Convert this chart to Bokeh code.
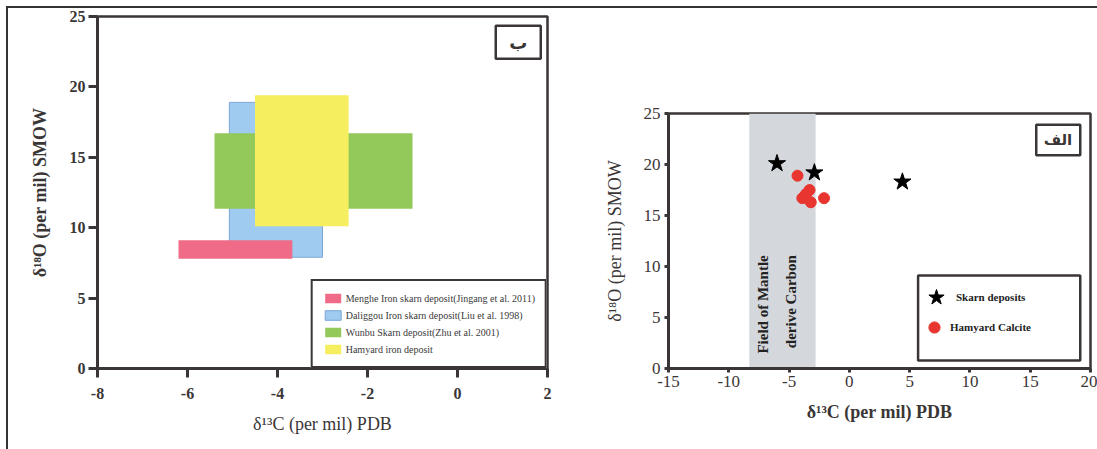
from math import pi

from bokeh.embed import file_html
from bokeh.layouts import row
from bokeh.models import (BoxAnnotation, ColumnDataSource, CustomJSTickFormatter, FixedTicker, Label,
                          Legend, LegendItem)
from bokeh.plotting import figure
from bokeh.resources import INLINE

# ---------------- panel "ب": carbonate isotope fields of skarn / iron deposits
field_names = [
    "Menghe Iron skarn deposit(Jingang et al. 2011)",
    "Daliggou Iron skarn deposit(Liu et al. 1998)",
    "Wunbu Skarn deposit(Zhu et al. 2001)",
    "Hamyard iron deposit",
]
field_c13_min = [-6.2, -5.07, -5.4, -4.5]
field_c13_max = [-3.67, -3.0, -1.0, -2.42]
field_o18_min = [7.8, 7.9, 11.35, 10.1]
field_o18_max = [9.1, 18.9, 16.7, 19.4]

# ---------------- panel "الف": measured samples
skarn_c13 = [-6.0, -2.9, 4.4]
skarn_o18 = [20.1, 19.2, 18.3]
calcite_c13 = [-4.3, -3.3, -3.6, -3.9, -3.2, -2.1]
calcite_o18 = [18.9, 17.5, 17.1, 16.7, 16.3, 16.7]
mantle_c13 = [-8.3, -2.8]

left_x_ticks = [-8, -6, -4, -2, 0, 2]
right_x_ticks = [-15, -10, -5, 0, 5, 10, 15, 20]
y_ticks = [0, 5, 10, 15, 20, 25]

INK = "#3b3636"
SERIF = "Liberation Serif"
field_colors = ["#EF6B88", "#9FCBF0", "#93C85B", "#F5EE5E"]
field_lines = [None, "#7BA7D6", None, None]

# plain hyphen for negative tick values, as printed in the figure
plain_ticks = CustomJSTickFormatter(code="return tick.toString();")


def style_axes(p, tick_size, tick_style, tick_out, xticks):
    for ax in (p.xaxis[0], p.yaxis[0]):
        ax.axis_line_color = INK
        ax.axis_line_width = 3
        ax.major_tick_line_color = INK
        ax.major_tick_line_width = 3
        ax.major_tick_out = tick_out
        ax.major_tick_in = 0
        ax.minor_tick_out = 0
        ax.minor_tick_in = 0
        ax.major_label_text_font = SERIF
        ax.major_label_text_font_size = tick_size
        ax.major_label_text_font_style = tick_style
        ax.major_label_text_color = INK
        ax.axis_label_text_font = SERIF
        ax.axis_label_text_color = INK
    p.xaxis.ticker = FixedTicker(ticks=xticks)
    p.yaxis.ticker = FixedTicker(ticks=y_ticks)
    p.xaxis.formatter = plain_ticks
    p.xgrid.visible = False
    p.ygrid.visible = False
    p.outline_line_color = INK
    p.outline_line_width = 2.5
    p.outline_line_alpha = 1


def tag_box(p, left, right, bottom, top):
    p.add_layout(BoxAnnotation(left=left, right=right, bottom=bottom, top=top,
                               fill_color="white", fill_alpha=1,
                               line_color=INK, line_alpha=1, line_width=2.5))


# ---------------- left chart
p1 = figure(width=552, height=441, x_range=(-8, 2), y_range=(0, 25),
            output_backend="svg", toolbar_location=None,
            min_border_left=89, min_border_right=13, min_border_top=8, min_border_bottom=81)
style_axes(p1, "16px", "bold", 9, left_x_ticks)
p1.xaxis.major_label_standoff = 10
p1.yaxis.major_label_standoff = 3
p1.xaxis.axis_label = "δ¹³C (per mil) PDB"
p1.xaxis.axis_label_text_font_size = "18px"
p1.xaxis.axis_label_text_font_style = "normal"
p1.xaxis.axis_label_standoff = 12
p1.yaxis.axis_label = "δ¹⁸O (per mil) SMOW"
p1.yaxis.axis_label_text_font_size = "18px"
p1.yaxis.axis_label_text_font_style = "bold"
p1.yaxis.axis_label_standoff = 17

field_renderers = {}
for i in [1, 2, 3, 0]:  # blue, green, yellow, pink stacking
    src = ColumnDataSource(dict(left=[field_c13_min[i]], right=[field_c13_max[i]],
                                bottom=[field_o18_min[i]], top=[field_o18_max[i]]))
    field_renderers[i] = p1.quad(left="left", right="right", bottom="bottom", top="top", source=src,
                                 fill_color=field_colors[i], fill_alpha=1,
                                 line_color=field_lines[i], line_width=1)

legend1 = Legend(items=[LegendItem(label=field_names[i], renderers=[field_renderers[i]]) for i in range(4)],
                 location="bottom_right", margin=0, padding=10, spacing=3,
                 label_height=14, glyph_height=12, glyph_width=20, label_standoff=3,
                 label_text_font=SERIF, label_text_font_size="10px", label_text_color="#3a3a3a",
                 border_line_color=INK, border_line_width=2, border_line_alpha=1,
                 background_fill_color="white", background_fill_alpha=1)
p1.add_layout(legend1)

tag_box(p1, 0.85, 1.85, 22.0, 24.35)
p1.add_layout(Label(x=1.35, y=23.15, text="ب", text_align="center", text_baseline="middle",
                    text_font="DejaVu Sans", text_font_size="18px", text_font_style="bold",
                    text_color=INK))

# ---------------- right chart (shifted down with a top margin)
p2 = figure(width=537, height=344, x_range=(-15, 20), y_range=(0, 25),
            output_backend="svg", toolbar_location=None, margin=(97, 0, 0, 0),
            min_border_left=108, min_border_right=7, min_border_top=8, min_border_bottom=81)
style_axes(p2, "17px", "normal", 4, right_x_ticks)
p2.xaxis.major_label_standoff = 3
p2.yaxis.major_label_standoff = 4
p2.xaxis.axis_label = "δ¹³C (per mil) PDB"
p2.xaxis.axis_label_text_font_size = "18px"
p2.xaxis.axis_label_text_font_style = "bold"
p2.xaxis.axis_label_standoff = 12
p2.yaxis.axis_label = "δ¹⁸O (per mil) SMOW"
p2.yaxis.axis_label_text_font_size = "18px"
p2.yaxis.axis_label_text_font_style = "normal"
p2.yaxis.axis_label_standoff = 16

p2.add_layout(BoxAnnotation(left=mantle_c13[0], right=mantle_c13[1], fill_color="#D4D7DB",
                            fill_alpha=1, line_alpha=0, level="underlay"))
for lx, txt in [(-7.13, "Field of Mantle"), (-4.81, "derive Carbon")]:
    p2.add_layout(Label(x=lx, y=11.1, text=txt, angle=pi / 2, text_align="right", text_baseline="middle",
                        text_font=SERIF, text_font_size="15px", text_font_style="bold",
                        text_color="#222222"))

r_skarn = p2.scatter(skarn_c13, skarn_o18, marker="star", size=18,
                     fill_color="black", line_color="black")
r_calc = p2.scatter(calcite_c13, calcite_o18, marker="circle", size=11,
                    fill_color="#E8352F", line_color="#E8352F")

# legend frame, with one borderless entry per series so each key keeps its own size
tag_box(p2, 5.7, 19.15, 0.78, 9.12)
entry_style = dict(padding=0, spacing=0, label_text_font=SERIF, label_text_font_size="11px",
                   label_text_font_style="bold", label_text_color="#222222",
                   border_line_alpha=0, background_fill_alpha=0)
p2.add_layout(Legend(items=[LegendItem(label="Skarn deposits", renderers=[r_skarn])],
                     location=(248, 51), glyph_width=40, glyph_height=40, label_height=40,
                     label_standoff=0, **entry_style))
p2.add_layout(Legend(items=[LegendItem(label="Hamyard Calcite", renderers=[r_calc])],
                     location=(252, 27), glyph_width=28, glyph_height=28, label_height=28,
                     label_standoff=2, **entry_style))

tag_box(p2, 15.5, 19.15, 20.9, 23.9)
p2.add_layout(Label(x=17.3, y=22.4, text="الف", text_align="center", text_baseline="middle",
                    text_font="DejaVu Sans", text_font_size="15px", text_font_style="bold",
                    text_color=INK))

layout = row(p1, p2, margin=(6, 0, 0, 6),
             styles={"border-top": "2px solid #333333", "border-left": "2px solid #333333"})

open("out.html", "w").write(file_html(layout, INLINE))
